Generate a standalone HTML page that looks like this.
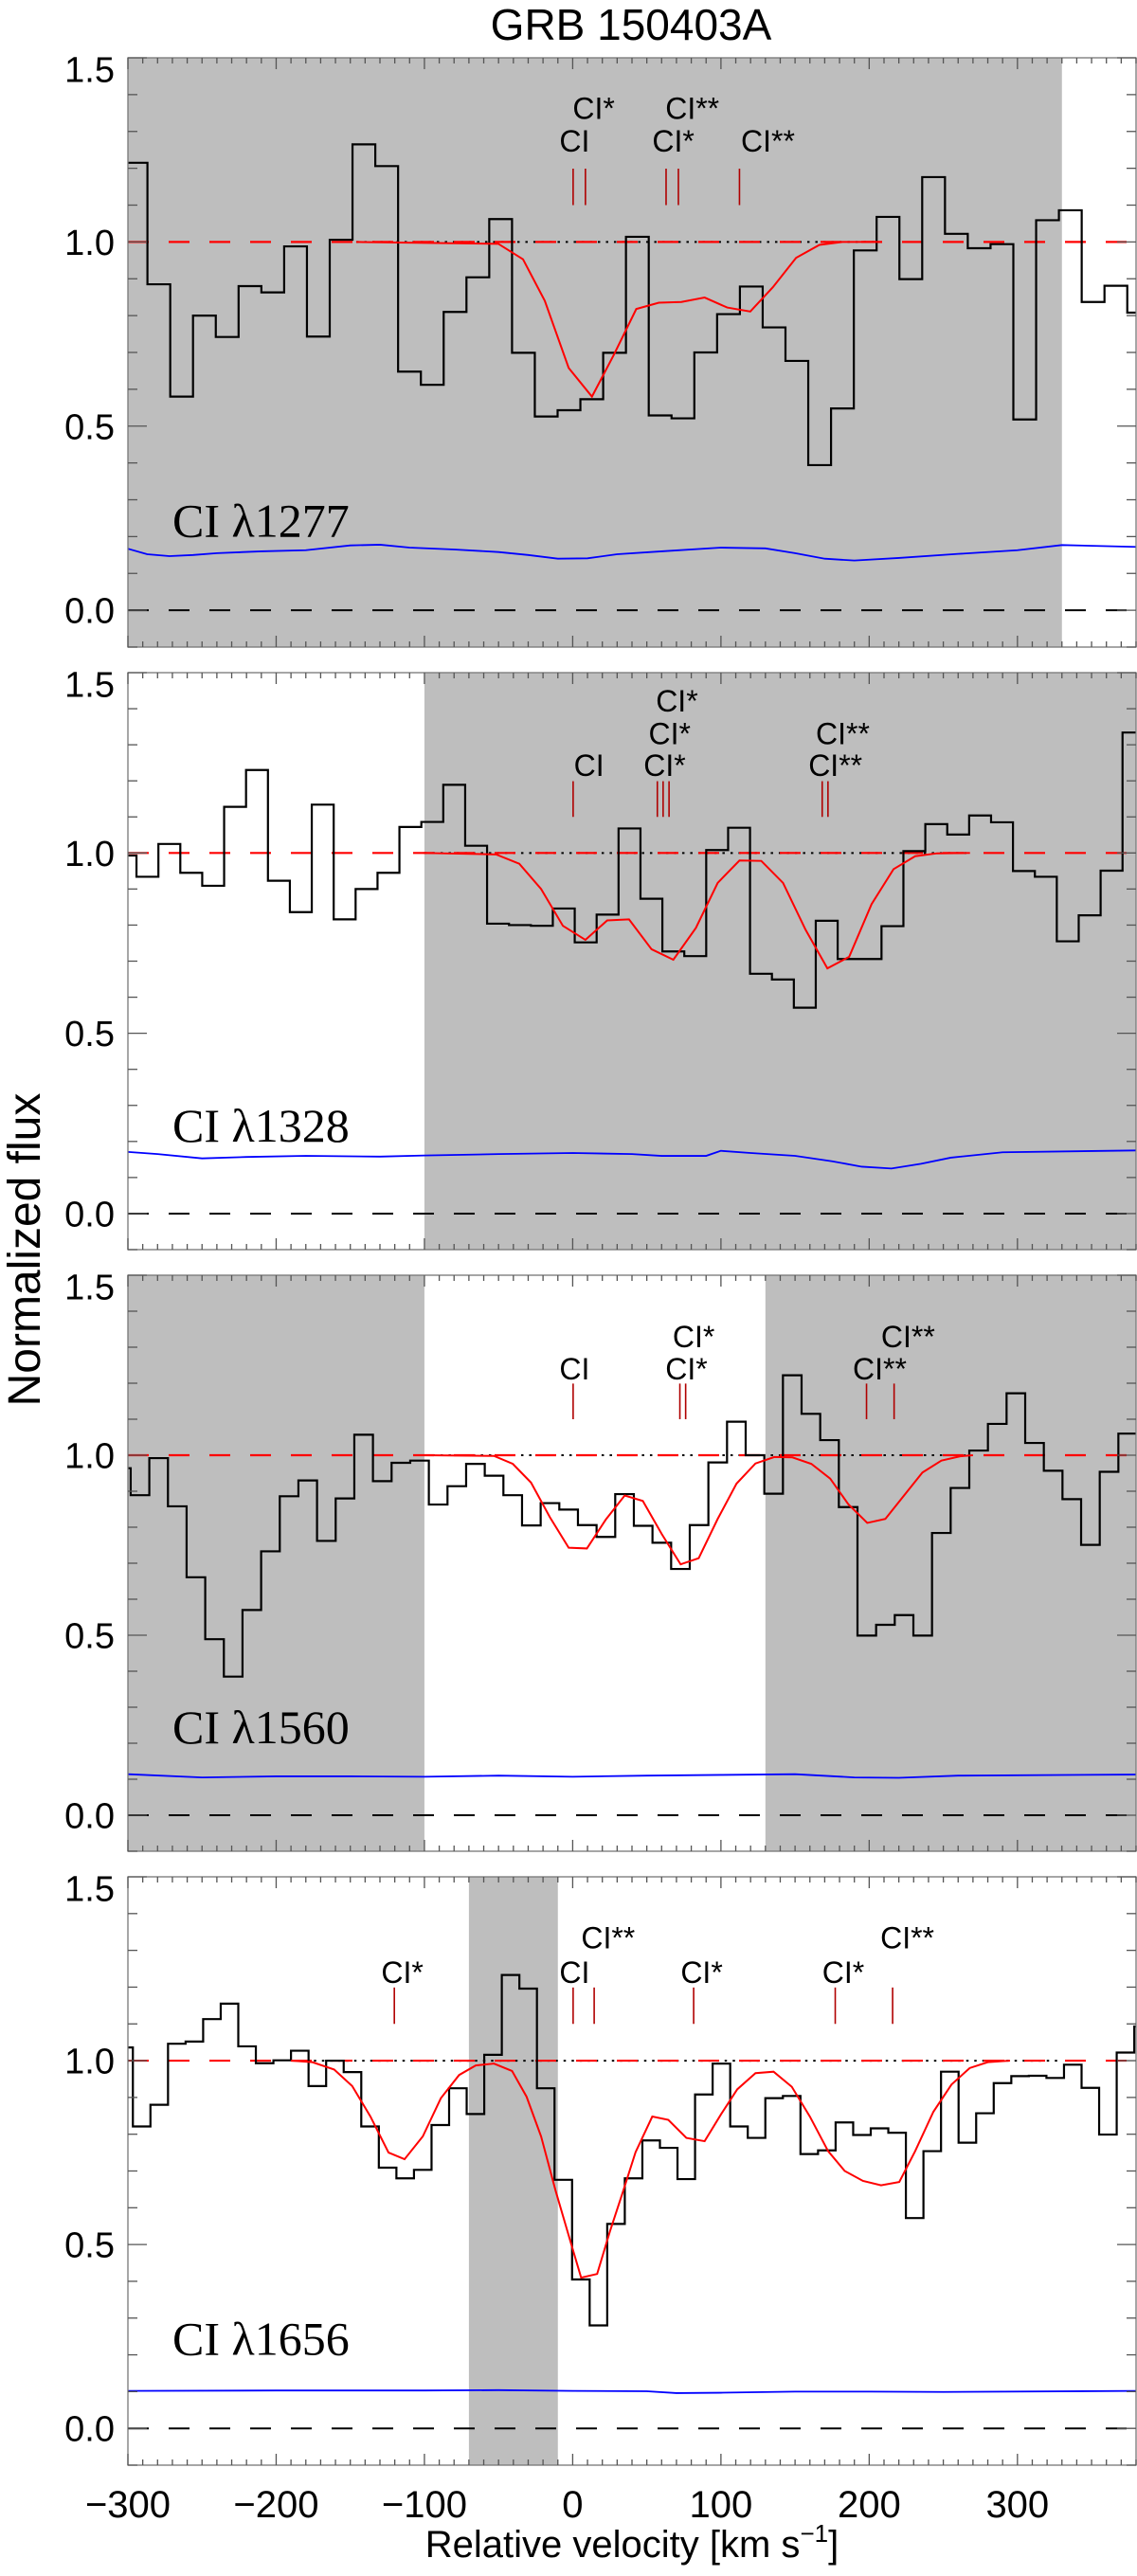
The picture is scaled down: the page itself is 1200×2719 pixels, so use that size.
<!DOCTYPE html>
<html><head><meta charset="utf-8"><style>
html,body{margin:0;padding:0;background:#fff}
svg{display:block}
text{font-family:"Liberation Sans",sans-serif}
text.serif{font-family:"Liberation Serif",serif}
</style></head><body>
<svg id="fig" xmlns="http://www.w3.org/2000/svg" width="1200" height="2719" viewBox="0 0 1200 2719">
<text x="666" y="42" font-size="46" text-anchor="middle">GRB 150403A</text>
<text transform="translate(42,1319) rotate(-90)" font-size="48" text-anchor="middle">Normalized flux</text>
<text x="667" y="2699" font-size="40" text-anchor="middle">Relative velocity  [km s<tspan font-size="26" dy="-16">−1</tspan><tspan dy="16">]</tspan></text>
<g id="panels"></g>
</svg>
<script>
// ---- data ----
const xTickLabels = ["−300","−200","−100","0","100","200","300"];
const xTickValues = [-300,-200,-100,0,100,200,300];
const yTickValues = [0.0,0.5,1.0,1.5];
const yTickLabels = ["0.0","0.5","1.0","1.5"];

const p1Name = "CI λ1277";
const p1BinStart = -302.2, p1BinWidth = 15.37;
const p1Flux = [1.215,0.885,0.58,0.80,0.742,0.88,0.863,0.988,0.743,1.006,1.265,1.206,0.648,0.612,0.81,0.904,1.062,0.699,0.526,0.543,0.573,0.699,1.014,0.529,0.521,0.70,0.804,0.879,0.768,0.677,0.394,0.548,0.977,1.068,0.899,1.176,1.022,0.983,0.994,0.518,1.059,1.086,0.837,0.881,0.808];
const p1ModelV = [-146,-50.2,-33.5,-18.8,-2.7,13.0,27.7,42.9,58.1,73.3,89.0,104.2,119.8,135.0,150.7,166.4,182.0,206];
const p1ModelF = [1.0,0.995,0.953,0.840,0.658,0.580,0.693,0.818,0.835,0.837,0.849,0.822,0.811,0.877,0.957,0.992,1.0,1.0];
const p1ErrV = [-300,-287,-272,-256,-240,-210,-180,-150,-130,-110,-80,-50,-30,-10,10,30,60,100,130,150,170,190,220,260,300,330,380];
const p1ErrF = [0.167,0.152,0.147,0.150,0.155,0.160,0.163,0.176,0.178,0.170,0.165,0.158,0.150,0.140,0.141,0.152,0.160,0.170,0.168,0.155,0.140,0.135,0.142,0.153,0.163,0.177,0.172];
const p1LineV = [0.3,8.6,63,71.3,112.5];
const p1LabelText = ["CI","CI*","CI*","CI**","CI**"];
const p1LabelV = [-9.0,0.0,53.7,62.5,113.5];
const p1LabelF = [1.245,1.334,1.245,1.334,1.245];
const p1MaskStart = [-310], p1MaskEnd = [330];
const p1DotRange = [-146,206];

const p2Name = "CI λ1328";
const p2BinStart = -309.0, p2BinWidth = 14.78;
const p2Flux = [0.993,0.934,1.025,0.945,0.909,1.128,1.230,0.923,0.836,1.134,0.816,0.900,0.945,1.072,1.086,1.189,1.020,0.804,0.800,0.798,0.846,0.752,0.829,1.068,0.873,0.727,0.714,1.008,1.070,0.665,0.649,0.571,0.812,0.706,0.706,0.797,1.005,1.080,1.051,1.104,1.085,0.950,0.934,0.755,0.827,0.951,1.334];
const p2ModelV = [-100.7,-51.7,-36.0,-21.3,-6.6,8.6,23.3,38.0,53.2,67.9,83.1,97.8,112.5,127.2,141.9,157.1,171.8,186.5,201.6,216.4,231.0,245.8,268];
const p2ModelF = [1.0,0.996,0.970,0.900,0.798,0.759,0.813,0.816,0.733,0.704,0.792,0.917,0.979,0.978,0.917,0.787,0.680,0.712,0.858,0.955,0.991,0.999,1.0];
const p2ErrV = [-300,-280,-250,-220,-180,-130,-100,-50,0,40,60,90,100,120,150,175,195,215,235,255,290,380];
const p2ErrF = [0.171,0.165,0.153,0.157,0.160,0.158,0.161,0.165,0.168,0.165,0.160,0.160,0.174,0.168,0.160,0.145,0.130,0.125,0.138,0.155,0.170,0.175];
const p2LineV = [0.3,57.1,61,65,168.3,172.2];
const p2LabelText = ["CI","CI*","CI*","CI*","CI**","CI**"];
const p2LabelV = [0.8,47.8,51.2,56.1,159,164];
const p2LabelF = [1.213,1.213,1.302,1.392,1.213,1.302];
const p2MaskStart = [-100], p2MaskEnd = [390];
const p2DotRange = [-100,268];

const p3Name = "CI λ1560";
const p3BinStart = -310.7, p3BinWidth = 12.57;
const p3Flux = [0.964,0.889,0.992,0.858,0.661,0.489,0.385,0.570,0.733,0.886,0.930,0.762,0.880,1.057,0.928,0.979,0.985,0.863,0.914,0.976,0.943,0.889,0.805,0.867,0.849,0.806,0.773,0.892,0.804,0.757,0.684,0.806,0.980,1.093,1.0,0.893,1.222,1.115,1.042,0.856,0.499,0.529,0.556,0.499,0.784,0.909,1.013,1.087,1.172,1.034,0.957,0.878,0.751,0.954,1.060];
const p3ModelV = [-100,-53.1,-40.4,-28.1,-15.4,-2.7,9.6,22.3,35.1,47.3,60.1,72.8,85.0,97.8,110.5,123.3,136.0,148.2,161.0,173.7,185.9,198.7,210.9,223.7,235.9,248.7,261.4,270];
const p3ModelF = [1.0,0.998,0.976,0.924,0.828,0.743,0.741,0.821,0.888,0.873,0.781,0.697,0.714,0.823,0.921,0.977,0.995,0.994,0.976,0.935,0.864,0.812,0.823,0.889,0.952,0.985,0.997,1.0];
const p3ErrV = [-300,-250,-200,-150,-100,-50,0,50,100,150,190,220,260,380];
const p3ErrF = [0.114,0.105,0.108,0.108,0.107,0.110,0.107,0.110,0.112,0.114,0.105,0.104,0.110,0.113];
const p3LineV = [0.3,72.3,76.2,198.2,216.8];
const p3LabelText = ["CI","CI*","CI*","CI**","CI**"];
const p3LabelV = [-9,62.5,67.4,188.9,208];
const p3LabelF = [1.211,1.211,1.30,1.211,1.30];
const p3MaskStart = [-310,130], p3MaskEnd = [-100,390];
const p3DotRange = [-100,265];

const p4Name = "CI λ1656";
const p4BinStart = -308.5, p4BinWidth = 11.85;
const p4Flux = [1.036,0.821,0.880,1.046,1.052,1.113,1.155,1.039,0.993,1.001,1.027,0.931,1.0,0.969,0.821,0.709,0.680,0.703,0.825,0.925,0.855,1.016,1.233,1.196,0.925,0.676,0.405,0.280,0.556,0.680,0.783,0.763,0.678,0.908,0.992,0.821,0.790,0.898,0.904,0.746,0.756,0.832,0.798,0.816,0.804,0.572,0.754,0.970,0.777,0.857,0.939,0.958,0.959,0.953,0.989,0.926,0.799,1.022,1.093];
const p4ModelV = [-190,-175.6,-160.9,-148.7,-136.4,-124.2,-113.4,-101.1,-88.9,-76.6,-65.4,-53.1,-40.9,-31.1,-21.3,-11.5,-1.7,5.7,16.5,25.3,34.1,42.4,53.7,64.5,76.7,89.0,100.2,111.0,123.3,135.5,147.8,160.0,172.3,183.5,195.8,208.0,220.3,231.0,243.3,255.5,267.8,280.0,295];
const p4ModelF = [1.0,0.996,0.976,0.931,0.848,0.750,0.732,0.794,0.898,0.961,0.987,0.992,0.972,0.902,0.794,0.646,0.511,0.410,0.420,0.538,0.646,0.751,0.848,0.839,0.790,0.781,0.855,0.922,0.966,0.970,0.929,0.848,0.754,0.700,0.673,0.661,0.670,0.754,0.861,0.935,0.980,0.996,1.0];
const p4ErrV = [-300,-200,-100,-50,0,50,70,100,150,200,250,380];
const p4ErrF = [0.102,0.103,0.103,0.104,0.102,0.101,0.096,0.097,0.100,0.100,0.099,0.102];
const p4LineV = [-120.3,0.3,14.5,81.6,177.1,215.8];
const p4LabelText = ["CI*","CI","CI**","CI*","CI*","CI**"];
const p4LabelV = [-129.1,-9,5.7,72.8,168.3,207.5];
const p4LabelF = [1.211,1.211,1.305,1.211,1.211,1.305];
const p4MaskStart = [-70], p4MaskEnd = [-10];
const p4DotRange = [-180,329];

// ---- layout ----
const NS = "http://www.w3.org/2000/svg";
const L = 135, R = 1199, VMIN = -300, VMAX = 380;
const X = v => L + (v - VMIN) * (R - L) / (VMAX - VMIN);
function mk(tag, attrs, parent) {
  const e = document.createElementNS(NS, tag);
  for (const k in attrs) e.setAttribute(k, attrs[k]);
  parent.appendChild(e);
  return e;
}
const root = document.getElementById('panels');

const panels = [
  {T:61,H:622,name:p1Name,bs:p1BinStart,bw:p1BinWidth,flux:p1Flux,mv:p1ModelV,mf:p1ModelF,ev:p1ErrV,ef:p1ErrF,lv:p1LineV,lt:p1LabelText,lbv:p1LabelV,lbf:p1LabelF,ms:p1MaskStart,me:p1MaskEnd,dot:p1DotRange},
  {T:710,H:609,name:p2Name,bs:p2BinStart,bw:p2BinWidth,flux:p2Flux,mv:p2ModelV,mf:p2ModelF,ev:p2ErrV,ef:p2ErrF,lv:p2LineV,lt:p2LabelText,lbv:p2LabelV,lbf:p2LabelF,ms:p2MaskStart,me:p2MaskEnd,dot:p2DotRange},
  {T:1346,H:608,name:p3Name,bs:p3BinStart,bw:p3BinWidth,flux:p3Flux,mv:p3ModelV,mf:p3ModelF,ev:p3ErrV,ef:p3ErrF,lv:p3LineV,lt:p3LabelText,lbv:p3LabelV,lbf:p3LabelF,ms:p3MaskStart,me:p3MaskEnd,dot:p3DotRange},
  {T:1981,H:621,name:p4Name,bs:p4BinStart,bw:p4BinWidth,flux:p4Flux,mv:p4ModelV,mf:p4ModelF,ev:p4ErrV,ef:p4ErrF,lv:p4LineV,lt:p4LabelText,lbv:p4LabelV,lbf:p4LabelF,ms:p4MaskStart,me:p4MaskEnd,dot:p4DotRange}
];

panels.forEach((p, idx) => {
  const T = p.T, B = p.T + p.H, unit = p.H / 1.6;
  const Y = f => T + (1.5 - f) * unit;
  const g = mk('g', {}, root);
  
  
  const cid = 'clip' + idx;
  const defs = mk('defs', {}, g);
  const cp = mk('clipPath', {id: cid}, defs);
  mk('rect', {x: L, y: T, width: R - L, height: p.H}, cp);
  const inner = mk('g', {'clip-path': 'url(#' + cid + ')'}, g);

  p.ms.forEach((s, i) => {
    const x0 = Math.max(L, X(s)), x1 = Math.min(R, X(p.me[i]));
    const r = mk('rect', {x: x0, y: T, width: x1 - x0, height: p.H, fill: '#bebebe'}, inner);
    
    
  });

  const zl = mk('line', {x1: L, x2: R, y1: Y(0), y2: Y(0), stroke: '#000', 'stroke-width': 2, 'stroke-dasharray': '22 21'}, inner);
  
  
  const dl = mk('line', {x1: X(p.dot[0]), x2: X(p.dot[1]), y1: Y(1), y2: Y(1), stroke: '#000', 'stroke-width': 2, 'stroke-dasharray': '2.5 6'}, inner);
  
  
  const cl = mk('line', {x1: L, x2: R, y1: Y(1), y2: Y(1), stroke: '#ff0000', 'stroke-width': 2.2, 'stroke-dasharray': '22 21'}, inner);
  
  

  let d = '';
  p.flux.forEach((f, i) => {
    const x0 = X(p.bs + i * p.bw), x1 = X(p.bs + (i + 1) * p.bw), y = Y(f);
    d += (i === 0 ? 'M' + x0 + ',' + y : 'V' + y) + 'H' + x1;
  });
  const hp = mk('path', {d: d, fill: 'none', stroke: '#000', 'stroke-width': 2.2}, inner);
  
  

  const ep = mk('polyline', {points: p.ev.map((v, i) => X(v) + ',' + Y(p.ef[i])).join(' '), fill: 'none', stroke: '#0000ff', 'stroke-width': 1.8}, inner);
  
  

  const mp = mk('polyline', {points: p.mv.map((v, i) => X(v) + ',' + Y(p.mf[i])).join(' '), fill: 'none', stroke: '#ff0000', 'stroke-width': 2}, inner);
  
  

  p.lv.forEach(v => {
    const t = mk('line', {x1: X(v), x2: X(v), y1: Y(1.199), y2: Y(1.10), stroke: '#b00000', 'stroke-width': 1.6}, inner);
    
    
  });
  p.lt.forEach((s, i) => {
    const t = mk('text', {x: X(p.lbv[i]), y: Y(p.lbf[i]), 'font-size': 32}, g);
    t.textContent = s;
    
    
  });

  const pl = mk('text', {x: 182, y: Y(0.2), 'font-size': 50, 'class': 'serif', style: 'font-family:"Liberation Serif",serif'}, g);
  pl.textContent = p.name;
  
  

  const fr = mk('rect', {x: L, y: T, width: R - L, height: p.H, fill: 'none', stroke: '#777', 'stroke-width': 1.3}, g);
  
  

  const tg = mk('g', {stroke: '#555', 'stroke-width': 1.3}, g);
  
  
  for (let v = -300; v <= 380; v += 10) {
    const major = (v % 100 === 0), len = major ? 12 : 6, x = X(v);
    mk('line', {x1: x, x2: x, y1: B, y2: B - len}, tg);
    mk('line', {x1: x, x2: x, y1: T, y2: T + len}, tg);
  }
  for (let k = -1; k <= 15; k++) {
    const f = k / 10, major = (k % 5 === 0), len = major ? 20 : 10, y = Y(f);
    mk('line', {x1: L, x2: L + len, y1: y, y2: y}, tg);
    mk('line', {x1: R, x2: R - len, y1: y, y2: y}, tg);
  }
  yTickValues.forEach((f, i) => {
    let yy = Y(f) + 13.5;
    if (f === 1.5) yy = T + 25.5;
    const t = mk('text', {x: 121, y: yy, 'font-size': 38, 'text-anchor': 'end'}, g);
    t.textContent = yTickLabels[i];
    
    
  });
  if (idx === 3) {
    xTickValues.forEach((v, i) => {
      const t = mk('text', {x: X(v), y: 2657, 'font-size': 40, 'text-anchor': 'middle'}, g);
      t.textContent = xTickLabels[i];
      
      
    });
  }
});
</script>
</body></html>
